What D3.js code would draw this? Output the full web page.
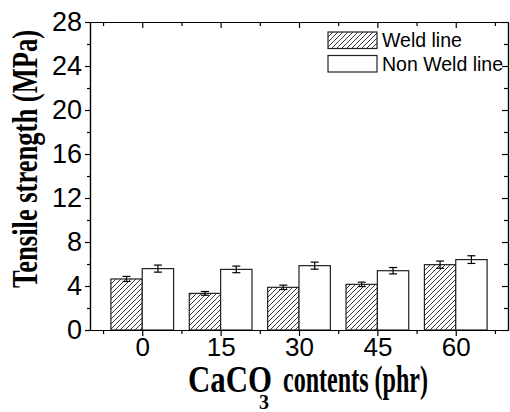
<!DOCTYPE html>
<html lang="en">
<head>
<meta charset="utf-8">
<style>
  body { margin: 0; background: white; }
  svg { background: white; }
  .tick text { font-family: 'Liberation Sans', Arial, sans-serif; fill: black; }
  .axis.y .tick text { font-size: 27px; }
  .axis.x .tick text { font-size: 26px; }
  .axis path, .axis line { stroke: black; stroke-width: 1.2px; }
  .legend text { font-family: 'Liberation Sans', Arial, sans-serif; font-size: 19.5px; }
  .title { font-family: 'Liberation Serif', 'Times New Roman', serif; font-weight: bold; }
</style>
</head>
<body>
<svg width="510" height="412"></svg>
<script src="https://cdn.jsdelivr.net/npm/d3@7"></script>
<script>
// CaCO3 content (phr)
const contents = [0, 15, 30, 45, 60]
// tensile strength, MPa
const weld = [4.64, 3.33, 3.88, 4.15, 5.94]
const weldErr = [0.23, 0.17, 0.2, 0.2, 0.33]
const nonWeld = [5.58, 5.51, 5.85, 5.39, 6.4]
const nonWeldErr = [0.32, 0.3, 0.32, 0.29, 0.35]
const yTicks = [0, 4, 8, 12, 16, 20, 24, 28]
const yMinor = [2, 6, 10, 14, 18, 22, 26]
const xMinor = [-7.5, 7.5, 22.5, 37.5, 52.5, 67.5]
const seriesNames = ["Weld line", "Non Weld line"]

const margin = { top: 22, right: 2, bottom: 82, left: 90 }
const width = 510, height = 412
const barW = 6 // in x units

const svg = d3.select("svg")

const x = d3.scaleLinear().domain([-10, 70]).range([margin.left, width - margin.right])
const y = d3.scaleLinear().domain([0, 28]).range([height - margin.bottom, margin.top])

// hatch for weld line bars
svg.append("defs").append("pattern")
    .attr("id", "hatch")
    .attr("patternUnits", "userSpaceOnUse")
    .attr("width", 5).attr("height", 5)
  .append("path")
    .attr("d", "M-1,1 l2,-2 M0,5 l5,-5 M4,6 l2,-2")
    .attr("stroke", "#222").attr("stroke-width", 0.9)

const rows = contents.map((c, i) => ({ c, w: weld[i], we: weldErr[i], n: nonWeld[i], ne: nonWeldErr[i] }))

const bars = svg.append("g")
// weld bars on the left of each tick
bars.selectAll("rect.weld").data(rows).enter().append("rect")
  .attr("class", "weld")
  .attr("x", d => x(d.c - barW)).attr("width", d => x(d.c) - x(d.c - barW))
  .attr("y", d => y(d.w)).attr("height", d => y(0) - y(d.w))
  .attr("fill", "url(#hatch)").attr("stroke", "#222").attr("stroke-width", 1.2)
bars.selectAll("rect.non").data(rows).enter().append("rect")
  .attr("class", "non")
  .attr("x", d => x(d.c)).attr("width", d => x(d.c + barW) - x(d.c))
  .attr("y", d => y(d.n)).attr("height", d => y(0) - y(d.n))
  .attr("fill", "white").attr("stroke", "#222").attr("stroke-width", 1.2)

// error bars
function errBars(cls, cx, val, err) {
  const g = svg.append("g").attr("stroke", "black").attr("stroke-width", 1.2)
  const e = g.selectAll("g." + cls).data(rows).enter().append("g").attr("class", cls)
  e.append("line").attr("x1", d => x(cx(d))).attr("x2", d => x(cx(d)))
    .attr("y1", d => y(val(d) + err(d))).attr("y2", d => y(val(d) - err(d)))
  e.append("line").attr("x1", d => x(cx(d)) - 4).attr("x2", d => x(cx(d)) + 4)
    .attr("y1", d => y(val(d) + err(d))).attr("y2", d => y(val(d) + err(d)))
  e.append("line").attr("x1", d => x(cx(d)) - 4).attr("x2", d => x(cx(d)) + 4)
    .attr("y1", d => y(val(d) - err(d))).attr("y2", d => y(val(d) - err(d)))
}
errBars("we", d => d.c - barW / 2, d => d.w, d => d.we)
errBars("ne", d => d.c + barW / 2, d => d.n, d => d.ne)

// axes
const bottom = height - margin.bottom
const minorX = xMinor.filter(v => v > -10 && v < 70)
svg.append("g").attr("class", "axis x").attr("transform", `translate(0,${bottom})`)
  .call(d3.axisBottom(x).tickValues(contents).tickSize(6).tickPadding(2).tickSizeOuter(0))
svg.append("g").attr("class", "axis").attr("transform", `translate(0,${bottom})`)
  .call(d3.axisBottom(x).tickValues(minorX).tickSize(4).tickFormat("").tickSizeOuter(0))
svg.append("g").attr("class", "axis").attr("transform", `translate(0,${margin.top})`)
  .call(d3.axisBottom(x).tickValues(contents).tickSize(6).tickFormat("").tickSizeOuter(0))
svg.append("g").attr("class", "axis").attr("transform", `translate(0,${margin.top})`)
  .call(d3.axisBottom(x).tickValues(minorX).tickSize(4).tickFormat("").tickSizeOuter(0))

svg.append("g").attr("class", "axis y").attr("transform", `translate(${margin.left},0)`)
  .call(d3.axisLeft(y).tickValues(yTicks).tickSize(5).tickPadding(3).tickSizeOuter(0))
svg.append("g").attr("class", "axis").attr("transform", `translate(${margin.left},0)`)
  .call(d3.axisLeft(y).tickValues(yMinor).tickSize(3).tickFormat("").tickSizeOuter(0))
svg.append("g").attr("class", "axis").attr("transform", `translate(${width - margin.right},0)`)
  .call(d3.axisLeft(y).tickValues(yTicks).tickSize(6).tickFormat("").tickSizeOuter(0))
svg.append("g").attr("class", "axis").attr("transform", `translate(${width - margin.right},0)`)
  .call(d3.axisLeft(y).tickValues(yMinor).tickSize(4).tickFormat("").tickSizeOuter(0))

svg.selectAll(".tick text").attr("fill", "black")

// legend
const legend = svg.append("g").attr("class", "legend")
seriesNames.forEach((name, i) => {
  const ly = 32 + i * 23.5
  legend.append("rect").attr("x", 328).attr("y", ly).attr("width", 49).attr("height", 16.5)
    .attr("fill", i === 0 ? "url(#hatch)" : "white").attr("stroke", "#222").attr("stroke-width", 1.2)
  legend.append("text").attr("x", 382).attr("y", ly + 15).text(name)
})

// axis titles
svg.append("text").attr("class", "title")
  .attr("transform", "translate(37,288) rotate(-90)")
  .attr("font-size", 36).attr("textLength", 258).attr("lengthAdjust", "spacingAndGlyphs")
  .text("Tensile strength (MPa)")

svg.append("text").attr("class", "title").attr("x", 188).attr("y", 392)
  .attr("font-size", 37).attr("textLength", 84).attr("lengthAdjust", "spacingAndGlyphs")
  .text("CaCO")
svg.append("text").attr("class", "title").attr("x", 259).attr("y", 409)
  .attr("font-size", 20).text("3")
svg.append("text").attr("class", "title").attr("x", 283).attr("y", 392)
  .attr("font-size", 37).attr("textLength", 145).attr("lengthAdjust", "spacingAndGlyphs")
  .text("contents (phr)")
</script>
</body>
</html>
